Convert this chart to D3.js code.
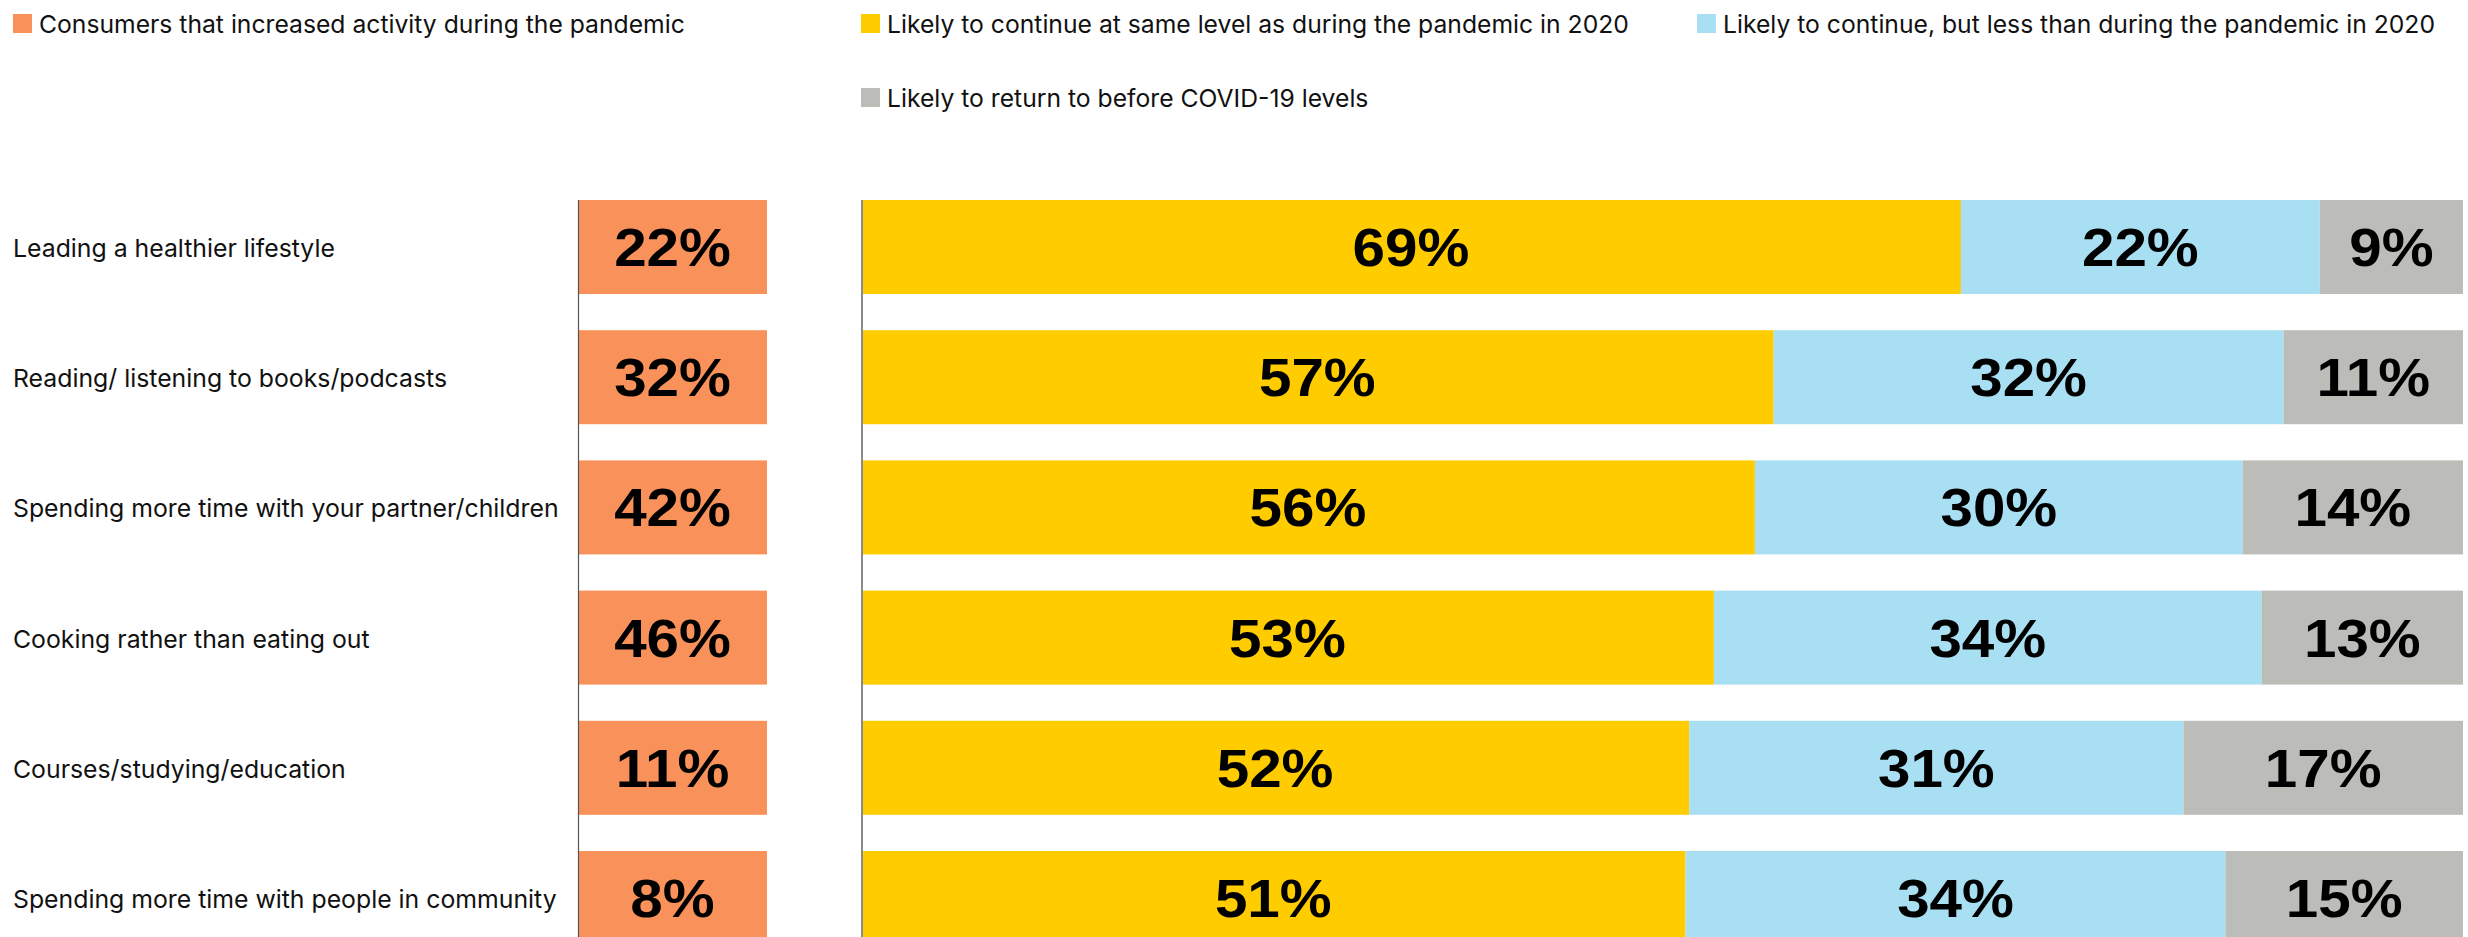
<!DOCTYPE html>
<html><head><meta charset="utf-8">
<script src="https://cdn.jsdelivr.net/npm/d3@7"></script>
<style>body{margin:0;background:#fff;overflow:hidden}</style>
</head><body>
<svg id="c" width="2468" height="937"></svg>
<script>
const categories = ["Leading a healthier lifestyle","Reading/ listening to books/podcasts","Spending more time with your partner/children","Cooking rather than eating out","Courses/studying/education","Spending more time with people in community"];
const increased = [22,32,42,46,11,8];
const sameLevel = [68.66,56.97,55.8,53.24,51.7,51.47];
const lessThan = [22.4,31.83,30.45,34.19,30.85,33.7];
const returnBefore = [8.94,11.2,13.75,12.57,17.45,14.83];
const seriesNames = ["Likely to continue at same level as during the pandemic in 2020","Likely to continue, but less than during the pandemic in 2020","Likely to return to before COVID-19 levels"];
const increasedName = "Consumers that increased activity during the pandemic";
const colors = {inc:"#F9925A", same:"#FFCC00", less:"#A9DFF2", ret:"#BCBDB8"};

const svg = d3.select("#c");
const fontTxt = "Inter, 'Liberation Sans', sans-serif";
const fontVal = "'Liberation Sans', Arial, sans-serif";
const pct = v => Math.round(v) + "%";

const y = d3.scaleBand().domain(categories).range([200, 945]).paddingInner(0.278).paddingOuter(0);
const x = d3.scaleLinear().domain([0,100]).range([861, 2463]);
const xInc = d3.scaleLinear().domain([0,1]).range([578, 767]);

// legend
const legend = [
  {name: increasedName, c: colors.inc, x: 13, y: 14},
  {name: seriesNames[0], c: colors.same, x: 861, y: 14},
  {name: seriesNames[1], c: colors.less, x: 1697, y: 14},
  {name: seriesNames[2], c: colors.ret, x: 861, y: 88}
];
const lg = svg.append("g").selectAll("g").data(legend).join("g").attr("transform", d=>`translate(${d.x},${d.y})`);
lg.append("rect").attr("width",19).attr("height",19).attr("fill",d=>d.c);
lg.append("text").attr("x",26).attr("y",19).attr("font-family",fontTxt).attr("font-size",24.7).attr("fill","#111").text(d=>d.name);

// row labels
svg.append("g").selectAll("text").data(categories).join("text")
  .attr("x",13).attr("y",d=>y(d)+y.bandwidth()/2+10)
  .attr("font-family",fontTxt).attr("font-size",24.8).attr("fill","#111").text(d=>d);

function valueText(sel, cx, cy, txt){
  sel.attr("transform",(d,i)=>`translate(${cx(d,i)},${cy(d,i)}) scale(1.08,1)`)
    .attr("text-anchor","middle").attr("font-family",fontVal).attr("font-weight","bold")
    .attr("font-size",54).attr("fill","#000").text(txt);
}

// increased boxes
const gi = svg.append("g");
gi.selectAll("rect").data(categories).join("rect")
  .attr("x",xInc(0)).attr("width",xInc(1)-xInc(0)).attr("y",d=>y(d)).attr("height",y.bandwidth()).attr("fill",colors.inc);
valueText(gi.selectAll("text").data(categories).join("text"),
  ()=> (xInc(0)+xInc(1))/2, d=>y(d)+y.bandwidth()/2+19, (d,i)=>pct(increased[i]));

// stacked bars
const rows = categories.map((c,i)=>({cat:c, same:sameLevel[i], less:lessThan[i], ret:returnBefore[i]}));
const stack = d3.stack().keys(["same","less","ret"])(rows);
const gs = svg.append("g");
stack.forEach(layer=>{
  const g = gs.append("g");
  g.selectAll("rect").data(layer).join("rect")
    .attr("x",d=>x(d[0])).attr("width",d=>x(d[1])-x(d[0]))
    .attr("y",d=>y(d.data.cat)).attr("height",y.bandwidth()).attr("fill",colors[layer.key]);
  valueText(g.selectAll("text").data(layer).join("text"),
    d=>(x(d[0])+x(d[1]))/2, d=>y(d.data.cat)+y.bandwidth()/2+19, d=>pct(d.data[layer.key]));
});

// axis lines
svg.append("line").attr("x1",578.5).attr("x2",578.5).attr("y1",200).attr("y2",937).attr("stroke","#555").attr("stroke-width",1.2);
svg.append("line").attr("x1",862).attr("x2",862).attr("y1",200).attr("y2",937).attr("stroke","#8a8a8a").attr("stroke-width",2);
</script>
</body></html>
